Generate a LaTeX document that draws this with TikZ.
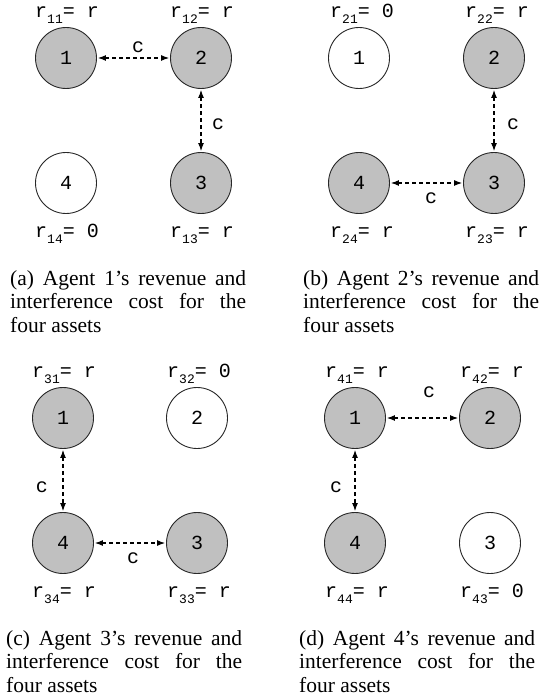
\documentclass[tikz,border=0pt]{standalone}
\usepackage{fontspec}
\setmainfont{Liberation Serif}
\setmonofont{Liberation Mono}
\usetikzlibrary{arrows.meta}
\definecolor{assetgray}{RGB}{192,192,192}
\definecolor{edgegray}{RGB}{40,40,40}
\tikzset{
  asset/.style={circle, draw=edgegray, line width=0.9pt, minimum size=61pt, inner sep=0pt, font=\fontsize{20}{20}\ttfamily},
  busy/.style={asset, fill=assetgray},
  free/.style={asset, fill=white},
  link/.style={dash pattern=on 4pt off 3pt, line width=1.1pt, {Latex[length=8pt,width=6pt]}-{Latex[length=8pt,width=6pt]}, shorten <=1pt, shorten >=1pt},
  rlab/.style={font=\fontsize{20}{20}\ttfamily, inner sep=0pt, anchor=base west},
  clab/.style={font=\fontsize{20}{20}\ttfamily, inner sep=0pt},
  capt/.style={text width=236pt, align=justify, font=\fontsize{21.5}{23.5}\selectfont, inner sep=0pt, anchor=north west}
}
\newcommand\rval[2]{r\raisebox{-6pt}{\fontsize{13}{13}\selectfont #1}= #2}
\begin{document}
\begin{tikzpicture}[x=1pt,y=-1pt]
\useasboundingbox (0,0) rectangle (542,700);
% ---------- (a)
\node[busy] (a1) at (66,58) {1};
\node[busy] (a2) at (201,58) {2};
\node[busy] (a3) at (201,183) {3};
\node[free] (a4) at (66,183) {4};
\node[rlab] (ar1) at (35,18) {\rval{11}{r}};
\node[rlab] (ar2) at (170,18) {\rval{12}{r}};
\node[rlab] (ar4) at (35,237) {\rval{14}{0}};
\node[rlab] (ar3) at (170,237) {\rval{13}{r}};
\draw[link] (a1) -- (a2);
\draw[link] (a2) -- (a3);
\node[clab] (ac1) at (138,47) {c};
\node[clab] (ac2) at (218,124) {c};
\node[capt] (acap) at (10,270) {(a) Agent 1's revenue and interference cost for the four assets};
% ---------- (b)
\node[free] (b1) at (359,58) {1};
\node[busy] (b2) at (494,58) {2};
\node[busy] (b3) at (494,183) {3};
\node[busy] (b4) at (359,183) {4};
\node[rlab] (br1) at (330,18) {\rval{21}{0}};
\node[rlab] (br2) at (465,18) {\rval{22}{r}};
\node[rlab] (br4) at (330,237) {\rval{24}{r}};
\node[rlab] (br3) at (465,237) {\rval{23}{r}};
\draw[link] (b2) -- (b3);
\draw[link] (b4) -- (b3);
\node[clab] (bc1) at (513,124) {c};
\node[clab] (bc2) at (431,198) {c};
\node[capt] (bcap) at (303,270) {(b) Agent 2's revenue and interference cost for the four assets};
% ---------- (c)
\node[busy] (c1) at (63,418) {1};
\node[free] (c2) at (197,418) {2};
\node[busy] (c3) at (197,543) {3};
\node[busy] (c4) at (63,543) {4};
\node[rlab] (cr1) at (32,377) {\rval{31}{r}};
\node[rlab] (cr2) at (167,377) {\rval{32}{0}};
\node[rlab] (cr4) at (32,597) {\rval{34}{r}};
\node[rlab] (cr3) at (167,597) {\rval{33}{r}};
\draw[link] (c1) -- (c4);
\draw[link] (c4) -- (c3);
\node[clab] (cc1) at (42,487) {c};
\node[clab] (cc2) at (133,558) {c};
\node[capt] (ccap) at (6,630) {(c) Agent 3's revenue and interference cost for the four assets};
% ---------- (d)
\node[busy] (d1) at (355,418) {1};
\node[busy] (d2) at (490,418) {2};
\node[free] (d3) at (490,543) {3};
\node[busy] (d4) at (355,543) {4};
\node[rlab] (dr1) at (325,377) {\rval{41}{r}};
\node[rlab] (dr2) at (460,377) {\rval{42}{r}};
\node[rlab] (dr4) at (325,597) {\rval{44}{r}};
\node[rlab] (dr3) at (460,597) {\rval{43}{0}};
\draw[link] (d1) -- (d2);
\draw[link] (d1) -- (d4);
\node[clab] (dc1) at (429,392) {c};
\node[clab] (dc2) at (336,487) {c};
\node[capt] (dcap) at (299,630) {(d) Agent 4's revenue and interference cost for the four assets};
\end{tikzpicture}
\end{document}
